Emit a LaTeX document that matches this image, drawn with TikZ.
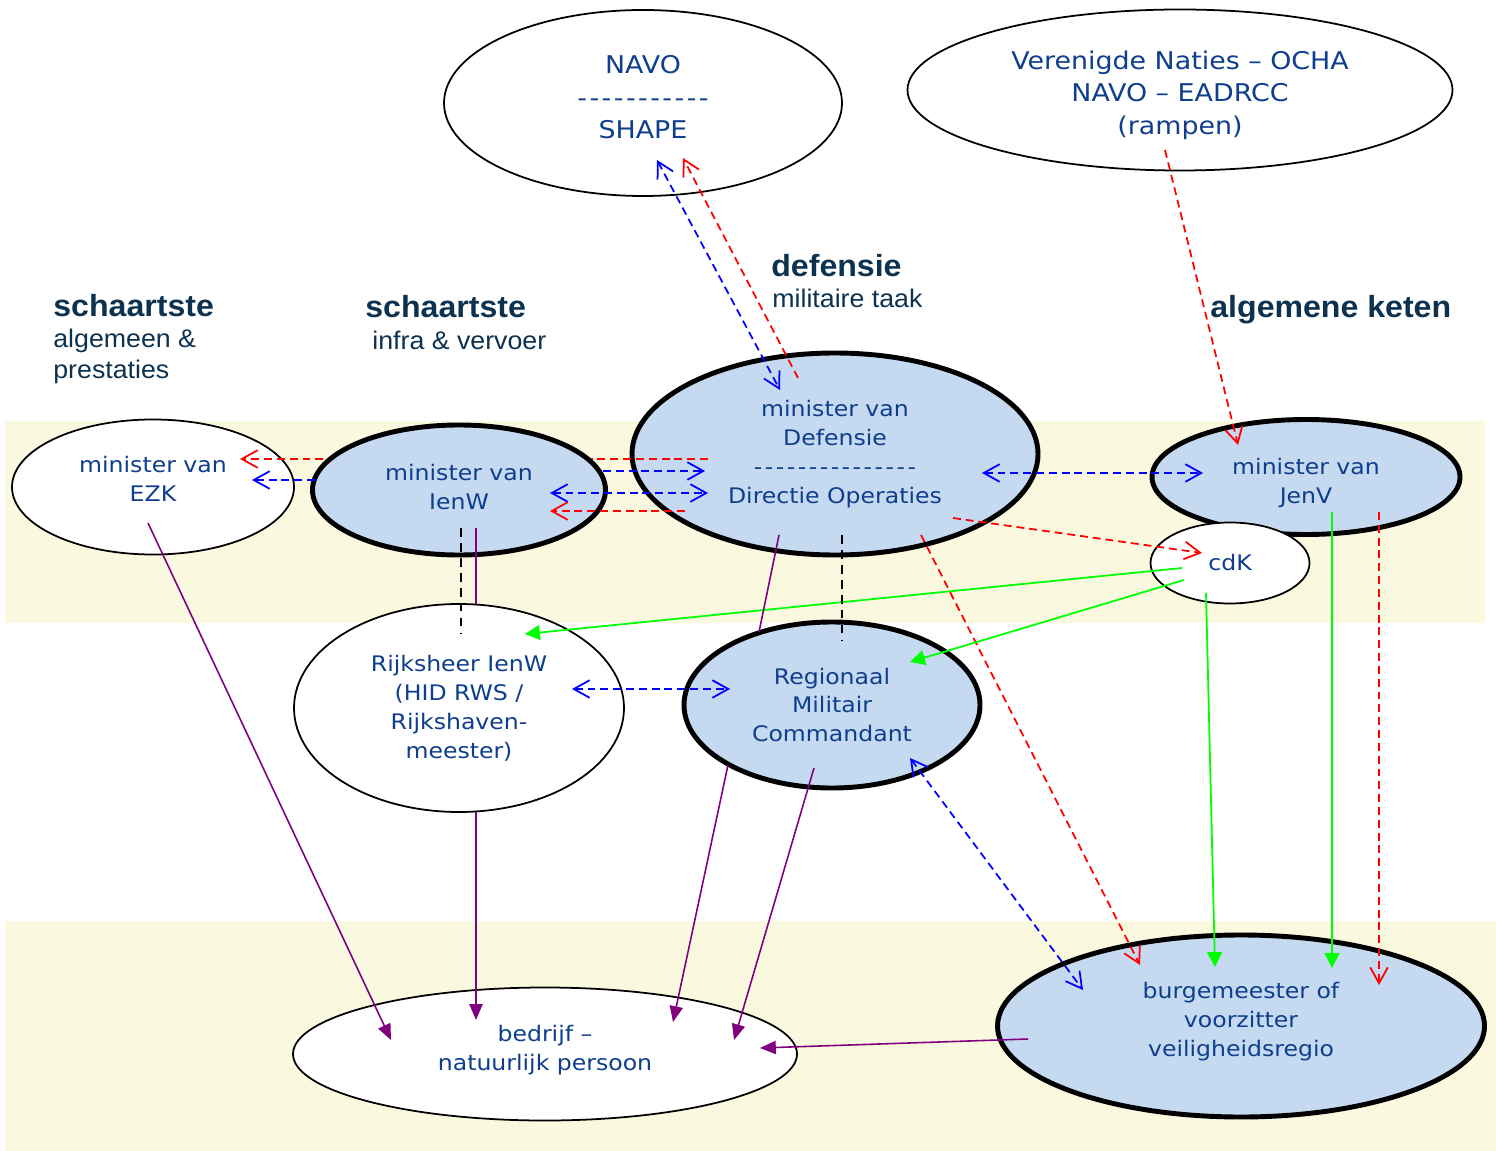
\documentclass[tikz,border=0pt]{standalone}
\usepackage{fontspec}
\usetikzlibrary{shapes.geometric,arrows.meta}

\newfontfamily\orgfont[FakeStretch=1.1]{DejaVu Sans}
\newfontfamily\headfont[FakeStretch=1.05]{Liberation Sans}

\definecolor{orgtext}{RGB}{14,62,140}
\definecolor{headtext}{RGB}{13,50,80}
\definecolor{orgfill}{RGB}{197,217,241}
\definecolor{band}{RGB}{250,248,222}
\definecolor{linkpurple}{RGB}{128,0,128}
\definecolor{linkgreen}{RGB}{0,255,0}

\newcommand\dashrow[1]{\foreach \k in {1,...,#1}{-\kern1.4pt}\unkern}
\newcommand\padbelow[1]{\rule[-#1]{0pt}{0pt}}
\newcommand\padabove[1]{\rule{0pt}{#1}}

\tikzset{
    org/.style={ellipse, draw, inner sep=0pt, align=center, text=orgtext,
        font=\orgfont\fontsize{12.2}{16.5}\selectfont},
    bigtext/.style={font=\orgfont\fontsize{13.9}{18.5}\selectfont},
    whiteorg/.style={org, fill=white, line width=1pt},
    blueorg/.style={org, fill=orgfill, line width=2.8pt},
    ellsize/.style 2 args={minimum width=#1*0.02cm, minimum height=#2*0.02cm},
    head/.style={anchor=base west, inner sep=0pt, text=headtext,
        font=\headfont\bfseries\fontsize{17.4}{20}\selectfont},
    subhead/.style={anchor=base west, inner sep=0pt, align=left, text=headtext,
        font=\headfont\fontsize{14.5}{17.6}\selectfont},
    bluelink/.style={draw=blue, line width=1pt, dash pattern=on 4.5pt off 2.8pt,
        >={Straight Barb[length=9pt,width=10pt]}},
    redlink/.style={draw=red, line width=1pt, dash pattern=on 4.5pt off 2.8pt,
        >={Straight Barb[length=9pt,width=10pt]}},
    greenlink/.style={draw=linkgreen, line width=1pt,
        >={Triangle[length=8.5pt,width=8.5pt]}},
    purplelink/.style={draw=linkpurple, line width=0.9pt,
        >={Triangle[length=9pt,width=7.5pt]}},
    blacklink/.style={draw=black, line width=0.9pt, dash pattern=on 5pt off 3.5pt}
}

\begin{document}
\begin{tikzpicture}[x=0.02cm, y=-0.02cm]
    \useasboundingbox (0,0) rectangle (1496,1151);
    \fill[band] (5,421) rectangle (1485,623);
    \fill[band] (5,921) rectangle (1496,1151);

    \node[head] (headezk) at (53,317) {schaartste};
    \node[subhead, anchor=north west] (subezk) at (53,329) {algemeen \&\\prestaties};
    \node[head] (headienw) at (365,318) {schaartste};
    \node[subhead] (subienw) at (372,350) {infra \& vervoer};
    \node[head] (headdef) at (771,277) {defensie};
    \node[subhead] (subdef) at (772,308) {militaire taak};
    \node[head] (headjenv) at (1210,318) {algemene keten};

    \node[whiteorg, bigtext, ellsize={398}{186}] (navo) at (643,103)
        {NAVO\\\dashrow{11}\\SHAPE\padbelow{6.8pt}};
    \node[whiteorg, bigtext, ellsize={545}{161}] (vn) at (1180,90)
        {\padabove{16.3pt}Verenigde Naties – OCHA\\NAVO – EADRCC\\(rampen)};
    \node[whiteorg, ellsize={282}{135}] (ezk) at (153,487) {minister van\\EZK\padbelow{9.1pt}};
    \node[blueorg, ellsize={406}{202}] (def) at (835,454)
        {minister van\\Defensie\\\dashrow{15}\\Directie Operaties};
    \node[blueorg, ellsize={308}{115}] (jenv) at (1306,477) {\padabove{16.1pt}minister van\\JenV};
    \node[whiteorg, ellsize={159}{81}] (cdk) at (1230,563) {cdK};
    \node[whiteorg, ellsize={330}{208}] (rijks) at (459,708)
        {Rijksheer IenW\\(HID RWS /\\Rijkshaven-\\meester)};
    \node[blueorg, ellsize={296}{166}] (rmc) at (832,705) {Regionaal\\Militair\\Commandant};
    \node[whiteorg, ellsize={504}{133}] (bedrijf) at (545,1054)
        {bedrijf –\\natuurlijk persoon\padbelow{7.4pt}};
    \node[blueorg, ellsize={487}{182}] (burg) at (1241,1026)
        {burgemeester of\\voorzitter\\veiligheidsregio\padbelow{7.4pt}};

    \draw[redlink,->] ([shift={(-127,5)}]def.center) -- ([shift={(87,-28)}]ezk.center);
    \node[blueorg, ellsize={293}{130}] (ienw) at (459,490) {minister van\\IenW\padbelow{3.4pt}};

    \draw[bluelink,<->] ([shift={(14,57)}]navo.center) -- ([shift={(-55,-64)}]def.center);
    \draw[redlink,->] ([shift={(-37,-76)}]def.center) -- ([shift={(40,55)}]navo.center);
    \draw[redlink,->] ([shift={(-15,60)}]vn.center) -- ([shift={(-68,-32)}]jenv.center);
    \draw[bluelink,<->] ([shift={(147,19)}]def.center) -- ([shift={(-103,-4)}]jenv.center);
    \draw[redlink,->] ([shift={(118,64)}]def.center) -- ([shift={(-28,-10)}]cdk.center);
    \draw[redlink,->] ([shift={(86,81)}]def.center) -- ([shift={(-101,-61)}]burg.center);
    \draw[bluelink,->] ([shift={(-144,-10)}]ienw.center) -- ([shift={(99,-7)}]ezk.center);
    \draw[bluelink,->] ([shift={(144,-19)}]ienw.center) -- ([shift={(-130,17)}]def.center);
    \draw[bluelink,<->] ([shift={(91,3)}]ienw.center) -- ([shift={(-127,39)}]def.center);
    \draw[redlink,->] ([shift={(-150,57)}]def.center) -- ([shift={(91,21)}]ienw.center);
    \draw[bluelink,<->] ([shift={(113,-19)}]rijks.center) -- ([shift={(-102,-16)}]rmc.center);
    \draw[bluelink,<->] ([shift={(78,53)}]rmc.center) -- ([shift={(-158,-36)}]burg.center);
    \draw[redlink,->] ([shift={(73,35)}]jenv.center) -- ([shift={(138,-41)}]burg.center);

    \draw[greenlink,->] ([shift={(-48,5)}]cdk.center) -- ([shift={(66,-74)}]rijks.center);
    \draw[greenlink,->] ([shift={(-46,17)}]cdk.center) -- ([shift={(78,-43)}]rmc.center);
    \draw[greenlink,->] ([shift={(-24,30)}]cdk.center) -- ([shift={(-26,-59)}]burg.center);
    \draw[greenlink,->] ([shift={(26,35)}]jenv.center) -- ([shift={(91,-58)}]burg.center);

    \draw[purplelink,->] ([shift={(-5,36)}]ezk.center) -- ([shift={(-154,-14)}]bedrijf.center);
    \draw[purplelink] ([shift={(17,38)}]ienw.center) -- ([shift={(17,-104)}]rijks.center);
    \draw[blacklink] ([shift={(2,38)}]ienw.center) -- ([shift={(2,-75)}]rijks.center);
    \draw[purplelink,->] ([shift={(17,104)}]rijks.center) -- ([shift={(-69,-34)}]bedrijf.center);
    \draw[purplelink] ([shift={(-56,81)}]def.center) -- ([shift={(-73,-73)}]rmc.center);
    \draw[blacklink] ([shift={(7,81)}]def.center) -- ([shift={(10,-65)}]rmc.center);
    \draw[purplelink,->] ([shift={(-104,60)}]rmc.center) -- ([shift={(128,-32)}]bedrijf.center);
    \draw[purplelink,->] ([shift={(-18,63)}]rmc.center) -- ([shift={(189,-14)}]bedrijf.center);
    \draw[purplelink,->] ([shift={(-213,13)}]burg.center) -- ([shift={(215,-6)}]bedrijf.center);
\end{tikzpicture}
\end{document}
